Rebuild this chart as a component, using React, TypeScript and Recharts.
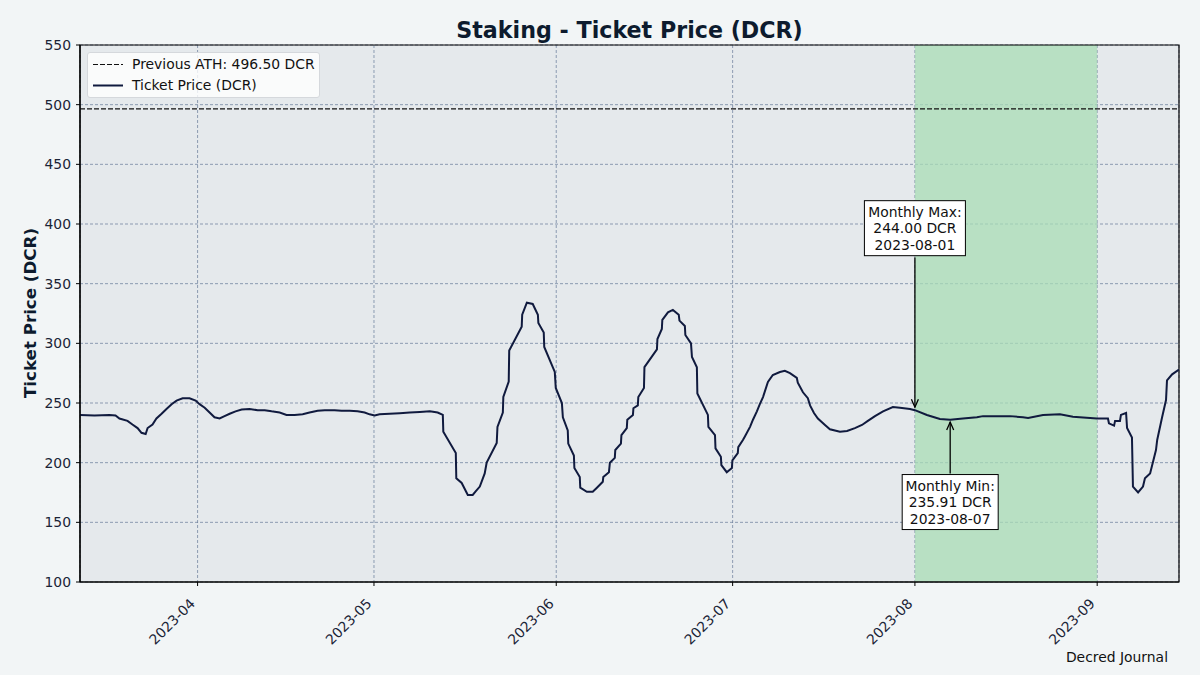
import React from 'react';
import {
  LineChart, Line, XAxis, YAxis, CartesianGrid, ReferenceLine, ReferenceArea, ReferenceDot,
} from 'recharts';

const FONT = '"DejaVu Sans", Verdana, sans-serif';

const dates = [
  '2023-03-12T00:00', '2023-03-14T11:00', '2023-03-17T00:00', '2023-03-18T01:00', '2023-03-18T17:00',
  '2023-03-20T02:00', '2023-03-20T22:00', '2023-03-21T19:00', '2023-03-22T11:00', '2023-03-23T04:00',
  '2023-03-23T12:00', '2023-03-24T08:00', '2023-03-25T00:00', '2023-03-25T21:00', '2023-03-26T17:00',
  '2023-03-27T14:00', '2023-03-28T10:00', '2023-03-29T11:00', '2023-03-30T15:00', '2023-03-31T16:00',
  '2023-04-01T08:00', '2023-04-02T05:00', '2023-04-03T01:00', '2023-04-03T21:00', '2023-04-04T18:00',
  '2023-04-05T14:00', '2023-04-06T11:00', '2023-04-07T11:00', '2023-04-08T12:00', '2023-04-09T20:00',
  '2023-04-11T05:00', '2023-04-12T10:00', '2023-04-13T14:00', '2023-04-14T23:00', '2023-04-16T03:00',
  '2023-04-17T12:00', '2023-04-18T21:00', '2023-04-20T01:00', '2023-04-21T10:00', '2023-04-22T15:00',
  '2023-04-24T07:00', '2023-04-25T12:00', '2023-04-26T21:00', '2023-04-28T05:00', '2023-04-29T10:00',
  '2023-04-30T06:00', '2023-05-01T03:00', '2023-05-01T23:00', '2023-05-03T16:00', '2023-05-05T09:00',
  '2023-05-07T02:00', '2023-05-08T19:00', '2023-05-10T12:00', '2023-05-11T20:00', '2023-05-12T17:00',
  '2023-05-12T19:00', '2023-05-14T22:00', '2023-05-15T00:00', '2023-05-15T22:00', '2023-05-16T23:00',
  '2023-05-17T19:00', '2023-05-18T07:00', '2023-05-19T00:00', '2023-05-19T20:00', '2023-05-20T04:00',
  '2023-05-21T21:00', '2023-05-22T00:00', '2023-05-22T22:00', '2023-05-23T00:00', '2023-05-23T22:00',
  '2023-05-24T00:00', '2023-05-26T03:00', '2023-05-26T05:00', '2023-05-27T00:00', '2023-05-28T00:00',
  '2023-05-28T21:00', '2023-05-28T23:00', '2023-05-29T21:00', '2023-05-29T23:00', '2023-05-31T18:00',
  '2023-05-31T22:00', '2023-06-01T23:00', '2023-06-02T03:00', '2023-06-02T23:00', '2023-06-03T01:00',
  '2023-06-04T00:00', '2023-06-04T02:00', '2023-06-05T00:00', '2023-06-05T02:00', '2023-06-06T05:00',
  '2023-06-07T05:00', '2023-06-07T22:00', '2023-06-08T22:00', '2023-06-09T00:00', '2023-06-09T23:00',
  '2023-06-10T03:00', '2023-06-10T23:00', '2023-06-11T01:00', '2023-06-12T00:00', '2023-06-12T02:00',
  '2023-06-13T00:00', '2023-06-13T02:00', '2023-06-14T01:00', '2023-06-14T03:00', '2023-06-14T21:00',
  '2023-06-14T23:00', '2023-06-15T22:00', '2023-06-16T00:00', '2023-06-18T03:00', '2023-06-18T05:00',
  '2023-06-18T23:00', '2023-06-19T01:00', '2023-06-20T00:00', '2023-06-20T20:00', '2023-06-21T20:00',
  '2023-06-21T23:00', '2023-06-22T21:00', '2023-06-22T23:00', '2023-06-23T22:00', '2023-06-24T02:00',
  '2023-06-24T22:00', '2023-06-25T00:00', '2023-06-26T19:00', '2023-06-26T21:00', '2023-06-28T00:00',
  '2023-06-28T02:00', '2023-06-29T00:00', '2023-06-29T02:00', '2023-06-30T00:00', '2023-06-30T21:00',
  '2023-06-30T23:00', '2023-07-01T21:00', '2023-07-01T23:00', '2023-07-02T18:00', '2023-07-03T02:00',
  '2023-07-03T23:00', '2023-07-04T11:00', '2023-07-05T03:00', '2023-07-05T15:00', '2023-07-06T04:00',
  '2023-07-07T00:00', '2023-07-07T20:00', '2023-07-09T01:00', '2023-07-09T21:00', '2023-07-10T18:00',
  '2023-07-11T22:00', '2023-07-12T02:00', '2023-07-12T23:00', '2023-07-13T19:00', '2023-07-14T04:00',
  '2023-07-14T20:00', '2023-07-15T12:00', '2023-07-16T17:00', '2023-07-17T13:00', '2023-07-19T06:00',
  '2023-07-20T11:00', '2023-07-21T19:00', '2023-07-23T00:00', '2023-07-24T00:00', '2023-07-25T05:00',
  '2023-07-26T14:00', '2023-07-28T06:00', '2023-07-29T11:00', '2023-07-31T04:00', '2023-08-01T00:00',
  '2023-08-03T01:00', '2023-08-05T06:00', '2023-08-07T00:00', '2023-08-09T04:00', '2023-08-11T13:00',
  '2023-08-12T14:00', '2023-08-17T04:00', '2023-08-19T09:00', '2023-08-20T06:00', '2023-08-22T19:00',
  '2023-08-25T16:00', '2023-08-27T21:00', '2023-08-31T23:00', '2023-09-02T20:00', '2023-09-03T00:00',
  '2023-09-03T21:00', '2023-09-04T01:00', '2023-09-04T21:00', '2023-09-05T01:00', '2023-09-05T22:00',
  '2023-09-06T02:00', '2023-09-06T22:00', '2023-09-07T02:00', '2023-09-07T23:00', '2023-09-08T19:00',
  '2023-09-09T03:00', '2023-09-10T00:00', '2023-09-11T00:00', '2023-09-11T05:00', '2023-09-12T01:00',
  '2023-09-12T17:00', '2023-09-12T21:00', '2023-09-13T18:00', '2023-09-14T22:00',
];

const prices = [
  240, 239.5, 240, 239.5, 237,
  235, 232, 229, 225, 224,
  229, 232, 237, 241, 245,
  249, 252, 254, 254, 252,
  249, 246, 242, 238, 237,
  239, 241, 243, 244.5, 245,
  244, 244, 243, 242, 240,
  240, 240.5, 242, 243.5, 244,
  244, 243.5, 243.5, 243, 242,
  240.5, 239.5, 240.5, 241, 241.5,
  242, 242.5, 243, 242, 240,
  226, 208, 187, 183, 173,
  173, 176, 180, 191, 200,
  216.5, 230, 242, 255, 268,
  294, 314, 324, 334, 333,
  324, 317, 309, 297, 276,
  262.6, 250, 238, 227, 216,
  206, 195.5, 188, 179, 175.6,
  175.6, 179, 184, 188, 192,
  200, 204, 210.6, 216, 223,
  229, 236, 240, 245.6, 248,
  255, 262.6, 280, 295, 303.6,
  312, 319.6, 326, 328, 324,
  319, 314.5, 307, 300, 288.5,
  280, 258, 240, 230, 223,
  212, 205, 198, 192, 195.5,
  202, 208, 213, 219, 222,
  230, 236, 243, 249, 255,
  267.6, 273.5, 276, 277, 275,
  271, 267, 259, 254, 248,
  241.6, 237, 231.6, 228, 226,
  226.5, 229, 231.6, 235, 239,
  243, 246.6, 246, 245, 244,
  240, 236.6, 235.91, 237, 238,
  239, 239, 238, 237.5, 240,
  240.5, 238.5, 237, 237, 233,
  231, 235, 235, 240, 241.6,
  229, 221, 180, 175, 180,
  187, 191, 210.6, 219, 238,
  252.5, 269, 274, 278,
];

const monthTickDates = ['2023-04-01', '2023-05-01', '2023-06-01', '2023-07-01', '2023-08-01', '2023-09-01'];
const monthTickLabels = ['2023-04', '2023-05', '2023-06', '2023-07', '2023-08', '2023-09'];
const yTicks = [100, 150, 200, 250, 300, 350, 400, 450, 500, 550];

const domainStart = '2023-03-12T00:00';
const domainEnd = '2023-09-14T22:00';
const highlightStart = '2023-08-01';
const highlightEnd = '2023-09-01';

const previousATH = 496.5;
const monthlyMax = { date: '2023-08-01', value: 244.0, textValue: 396.5, shaftTop: 372, tip: 246.5 };
const monthlyMin = { date: '2023-08-07', value: 235.91, textValue: 167, shaftBottom: 191, tip: 234 };

const toTs = (s: string) => Date.parse(s.length === 10 ? s + 'T00:00:00Z' : s + ':00Z');

const data = dates.map((d, i) => ({ t: toTs(d), price: prices[i] }));
const monthTicks = monthTickDates.map(toTs);
const labelFor = (v: number) => {
  const i = monthTicks.indexOf(v);
  return i >= 0 ? monthTickLabels[i] : '';
};

const TEXT = '#1b2436';
const FS = 13.9;

const XTick = (props: any) => {
  const { x, y, payload } = props;
  const ax = x - 5;
  const ay = y + 13;
  return (
    <text
      transform={`translate(${ax},${ay}) rotate(-45)`}
      textAnchor="end"
      dominantBaseline="central"
      fontFamily={FONT}
      fontSize={FS}
      fill={TEXT}
    >
      {labelFor(payload.value)}
    </text>
  );
};

const YTick = (props: any) => {
  const { x, y, payload } = props;
  return (
    <text x={x - 3} y={y} textAnchor="end" dominantBaseline="central" fontFamily={FONT} fontSize={FS} fill={TEXT}>
      {payload.value}
    </text>
  );
};

const makeBox = (lines: string[], w: number) => (props: any) => {
  const { cx, cy } = props;
  const h = 55;
  return (
    <g>
      <rect x={cx - w / 2} y={cy - h / 2} width={w} height={h} fill="#ffffff" stroke="#000" strokeWidth={1} />
      {lines.map((l, i) => (
        <text
          key={i}
          x={cx}
          y={cy - 16 + i * 16.3}
          textAnchor="middle"
          dominantBaseline="central"
          fontFamily={FONT}
          fontSize={FS}
          fill="#111"
        >
          {l}
        </text>
      ))}
    </g>
  );
};

const ArrowHead = (dir: 'down' | 'up') => (props: any) => {
  const { cx, cy } = props;
  const s = dir === 'down' ? -1 : 1;
  return (
    <polyline
      points={`${cx - 3.5},${cy + s * 8} ${cx},${cy} ${cx + 3.5},${cy + s * 8}`}
      fill="none"
      stroke="#000"
      strokeWidth={1.3}
    />
  );
};

export default function App() {
  const start = toTs(domainStart);
  const end = toTs(domainEnd);
  const maxX = toTs(monthlyMax.date);
  const minX = toTs(monthlyMin.date);
  return (
    <div style={{ position: 'absolute', left: 0, top: 0, width: 1200, height: 675, background: '#f2f5f6', fontFamily: FONT }}>
      <div
        style={{
          position: 'absolute', left: 80, width: 1099, top: 15, textAlign: 'center',
          fontSize: 22.2, fontWeight: 'bold', color: '#0d1b2e', lineHeight: '30px',
        }}
      >
        Staking - Ticket Price (DCR)
      </div>
      <div
        style={{
          position: 'absolute', left: 30, top: 313, transform: 'translate(-50%,-50%) rotate(-90deg)',
          fontSize: 16.7, fontWeight: 'bold', color: '#0d1b2e', whiteSpace: 'nowrap',
        }}
      >
        Ticket Price (DCR)
      </div>
      <div style={{ position: 'absolute', right: 32, top: 649, fontSize: FS, color: '#111' }}>Decred Journal</div>
      <LineChart
        width={1200}
        height={675}
        data={data}
        margin={{ top: 45, right: 21, bottom: 0, left: 0 }}
        style={{ position: 'absolute', left: 0, top: 0 }}
      >
        <CartesianGrid
          stroke="#667a98"
          strokeDasharray="3 2"
          strokeWidth={0.7}
          fill="#e5e9ec"
          fillOpacity={1}
        />
        <ReferenceArea
          x1={toTs(highlightStart)}
          x2={toTs(highlightEnd)}
          y1={100}
          y2={550}
          fill="#a8dcb5"
          fillOpacity={0.75}
          stroke="none"
        />
        <XAxis
          dataKey="t"
          type="number"
          scale="time"
          domain={[start, end]}
          ticks={monthTicks}
          tick={<XTick />}
          height={93}
          axisLine={{ stroke: '#000', strokeWidth: 1.2 }}
          tickLine={{ stroke: '#000' }}
          tickSize={4}
          allowDataOverflow
        />
        <YAxis
          type="number"
          domain={[100, 550]}
          ticks={yTicks}
          tick={<YTick />}
          width={80}
          axisLine={{ stroke: '#000', strokeWidth: 1.2 }}
          tickLine={{ stroke: '#000' }}
          tickSize={4}
          allowDataOverflow
        />
        <ReferenceLine y={previousATH} stroke="#111" strokeWidth={1.2} strokeDasharray="5 2" />
        <Line
          type="linear"
          dataKey="price"
          stroke="#101a3e"
          strokeWidth={2}
          dot={false}
          isAnimationActive={false}
        />
        <ReferenceArea x1={start} x2={end} y1={100} y2={550} fill="none" stroke="#000" strokeWidth={1.2} />
        <ReferenceLine
          segment={[{ x: maxX, y: monthlyMax.shaftTop }, { x: maxX, y: monthlyMax.tip }]}
          stroke="#000"
          strokeWidth={1.3}
        />
        <ReferenceDot x={maxX} y={monthlyMax.tip} r={0} shape={ArrowHead('down')} />
        <ReferenceDot
          x={maxX}
          y={monthlyMax.textValue}
          r={0}
          shape={makeBox(['Monthly Max:', `${monthlyMax.value.toFixed(2)} DCR`, monthlyMax.date], 101)}
        />
        <ReferenceLine
          segment={[{ x: minX, y: monthlyMin.shaftBottom }, { x: minX, y: monthlyMin.tip }]}
          stroke="#000"
          strokeWidth={1.3}
        />
        <ReferenceDot x={minX} y={monthlyMin.tip} r={0} shape={ArrowHead('up')} />
        <ReferenceDot
          x={minX}
          y={monthlyMin.textValue}
          r={0}
          shape={makeBox(['Monthly Min:', `${monthlyMin.value.toFixed(2)} DCR`, monthlyMin.date], 96)}
        />
      </LineChart>
      <div
        style={{
          position: 'absolute', left: 87, top: 52, width: 233, height: 46, boxSizing: 'border-box',
          background: 'rgba(255,255,255,0.8)', border: '1px solid #d5d8dc', borderRadius: 3,
        }}
      >
        <svg width={40} height={46} style={{ position: 'absolute', left: 0, top: 0 }}>
          <line x1={5} x2={35} y1={11.5} y2={11.5} stroke="#111" strokeWidth={1.2} strokeDasharray="5 2" />
          <line x1={5} x2={35} y1={32.5} y2={32.5} stroke="#101a3e" strokeWidth={2} />
        </svg>
        <div style={{ position: 'absolute', left: 44, top: 2, fontSize: FS, color: '#111', lineHeight: '18px', whiteSpace: 'nowrap' }}>
          Previous ATH: 496.50 DCR
        </div>
        <div style={{ position: 'absolute', left: 44, top: 23, fontSize: FS, color: '#111', lineHeight: '18px', whiteSpace: 'nowrap' }}>
          Ticket Price (DCR)
        </div>
      </div>
    </div>
  );
}
